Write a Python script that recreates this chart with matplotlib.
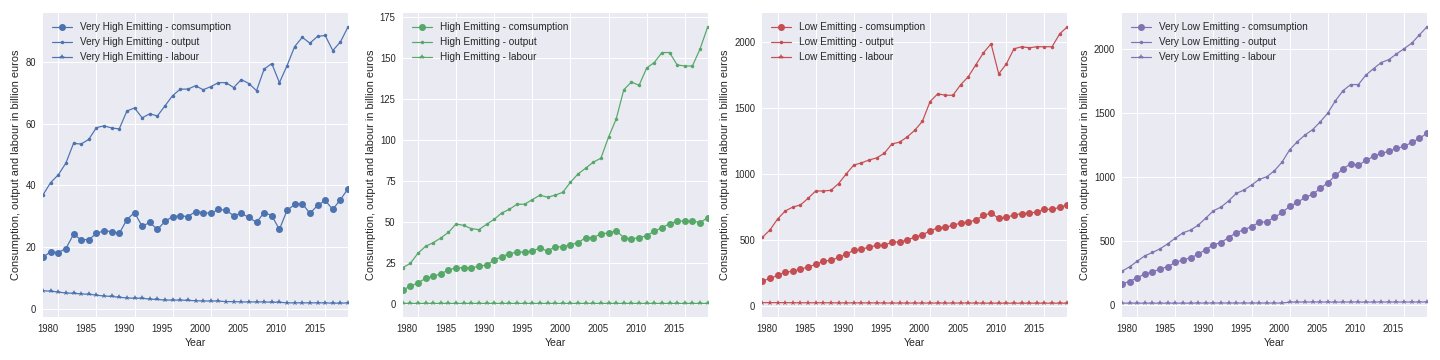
import matplotlib
matplotlib.use("Agg")
import matplotlib.pyplot as plt
import matplotlib.dates as mdates
import datetime as dt

years = list(range(1978, 2019))

groups = ["Very High Emitting", "High Emitting", "Low Emitting", "Very Low Emitting"]

vh_consumption = [16.7, 18.5, 18.2, 19.5, 24.1, 22.4, 22.4, 24.4, 25.3, 25.0, 24.4, 28.9, 31.2, 26.7,
                  28.0, 25.7, 28.3, 29.9, 30.1, 29.9, 31.5, 31.2, 30.9, 32.2, 31.9, 30.2, 30.9, 29.6,
                  28.0, 31.2, 30.2, 25.7, 31.9, 33.8, 34.1, 30.9, 33.5, 35.1, 32.2, 35.4, 38.9]
vh_output = [36.9, 40.9, 43.4, 47.2, 53.6, 53.4, 54.9, 58.7, 59.3, 58.6, 58.3, 64.1, 65.1, 61.9,
             63.2, 62.5, 65.8, 69.1, 71.2, 71.2, 72.3, 71.0, 72.0, 73.3, 73.3, 71.7, 74.3, 73.0,
             70.7, 77.7, 79.5, 73.3, 78.8, 85.0, 88.0, 86.1, 88.3, 88.6, 83.7, 86.5, 91.4]
vh_labour = [5.8, 5.7, 5.4, 5.1, 5.0, 4.8, 4.7, 4.4, 4.1, 4.0, 3.7, 3.5, 3.4, 3.4, 3.1, 3.0, 2.8,
             2.8, 2.8, 2.7, 2.6, 2.5, 2.5, 2.5, 2.3, 2.3, 2.2, 2.2, 2.2, 2.2, 2.1, 2.1, 1.9, 1.9,
             1.9, 1.9, 1.9, 1.9, 1.8, 1.8, 1.9]

h_consumption = [8.6, 10.6, 12.8, 15.5, 16.7, 18.4, 20.6, 22.0, 22.0, 22.0, 22.8, 23.7, 26.7, 28.8,
                 30.6, 31.6, 31.6, 32.2, 34.1, 32.2, 34.9, 34.7, 36.1, 37.3, 40.4, 40.4, 42.8, 43.2,
                 44.7, 40.4, 39.6, 40.4, 41.6, 44.3, 46.5, 48.9, 50.4, 50.6, 50.6, 49.6, 52.6]
h_output = [22.0, 24.7, 30.8, 35.1, 37.3, 40.2, 43.6, 48.7, 47.9, 45.9, 45.3, 48.5, 51.6, 55.5,
            57.7, 60.8, 60.8, 63.6, 66.3, 65.1, 66.3, 68.1, 74.2, 79.3, 82.8, 86.5, 88.9, 101.8,
            112.8, 130.7, 135.4, 133.4, 144.0, 147.3, 153.4, 153.4, 145.8, 145.2, 145.2, 155.6, 169.1]
h_labour = [0.4, 0.4, 0.4, 0.4, 0.4, 0.4, 0.4, 0.4, 0.4, 0.4, 0.4, 0.4, 0.4, 0.4, 0.4, 0.4, 0.4,
            0.4, 0.4, 0.4, 0.4, 0.4, 0.4, 0.4, 0.4, 0.4, 0.4, 0.4, 0.4, 0.4, 0.4, 0.4, 0.4, 0.4,
            0.4, 0.4, 0.4, 0.4, 0.4, 0.4, 0.4]

l_consumption = [187, 208, 230, 256, 261, 278, 294, 314, 339, 344, 367, 390, 423, 428, 446, 458,
                 458, 484, 484, 499, 522, 537, 570, 590, 597, 610, 628, 635, 651, 686, 704, 663,
                 671, 689, 699, 704, 711, 732, 732, 747, 765]
l_output = [519, 575, 658, 719, 749, 765, 815, 871, 871, 876, 927, 1000, 1068, 1084, 1106, 1122,
            1157, 1228, 1241, 1281, 1332, 1400, 1549, 1608, 1597, 1597, 1676, 1737, 1828, 1919,
            1987, 1759, 1835, 1949, 1965, 1957, 1965, 1965, 1965, 2063, 2116]
l_labour = [24, 24, 24, 24, 23, 23, 23, 23, 23, 23, 22, 22, 22, 22, 22, 22, 21, 21, 21, 21, 21,
            21, 21, 21, 21, 21, 21, 21, 21, 20, 20, 20, 20, 20, 20, 20, 20, 20, 20, 20, 20]

vl_consumption = [169, 185, 216, 243, 261, 282, 302, 334, 355, 370, 399, 435, 472, 490, 529, 568,
                  589, 615, 647, 652, 686, 725, 772, 803, 842, 866, 913, 957, 1014, 1066, 1106,
                  1093, 1132, 1163, 1186, 1202, 1226, 1241, 1272, 1304, 1343]
vl_output = [266, 300, 344, 386, 412, 441, 480, 524, 566, 587, 626, 681, 738, 767, 816, 874, 900,
             939, 983, 1004, 1051, 1119, 1215, 1278, 1330, 1372, 1432, 1502, 1598, 1677, 1724,
             1724, 1799, 1849, 1896, 1919, 1963, 2005, 2047, 2112, 2175]
vl_labour = [16, 16, 16, 16, 16, 16, 16, 16, 16, 16, 17, 17, 17, 17, 17, 17, 17, 17, 17, 17, 17,
             17, 24, 25, 25, 25, 25, 25, 24, 25, 25, 25, 24, 25, 25, 25, 25, 25, 25, 25, 26]

consumption = [vh_consumption, h_consumption, l_consumption, vl_consumption]
output = [vh_output, h_output, l_output, vl_output]
labour = [vh_labour, h_labour, l_labour, vl_labour]
colors = ["#4C72B0", "#55A868", "#C44E52", "#8172B2"]

plt.style.use("seaborn-v0_8")
plt.rcParams["font.family"] = "sans-serif"
plt.rcParams["font.sans-serif"] = ["Liberation Sans", "DejaVu Sans"]

dates = [dt.datetime(y, 1, 1) for y in years]

fig, axes = plt.subplots(1, 4, figsize=(20, 5), dpi=72)
fig.subplots_adjust(left=43 / 1440, right=1427 / 1440, bottom=1 - 317 / 360, top=1 - 13 / 360,
                    wspace=0.179)

for i, ax in enumerate(axes):
    c = colors[i]
    g = groups[i]
    ax.plot(dates, consumption[i], color=c, marker="o", markersize=7, linewidth=1.2,
            label=f"{g} - comsumption")
    ax.plot(dates, output[i], color=c, marker=".", markersize=7, linewidth=1.2,
            label=f"{g} - output")
    ax.plot(dates, labour[i], color=c, marker="*", markersize=5.5, linewidth=1.2,
            label=f"{g} - labour")
    ax.set_xlim(dates[0], dates[-1])
    ax.xaxis.set_major_locator(mdates.YearLocator(5))
    ax.xaxis.set_major_formatter(mdates.DateFormatter("%Y"))
    for lab in ax.get_xticklabels():
        lab.set_rotation(0)
        lab.set_ha("right")
    ax.tick_params(labelsize=9.5)
    ax.set_xlabel("Year", fontsize=10.5)
    ax.set_ylabel("Consumption, output and labour in billion euros", fontsize=11)
    ax.legend(loc="upper left", fontsize=10)

fig.savefig("out.png", dpi=72)
